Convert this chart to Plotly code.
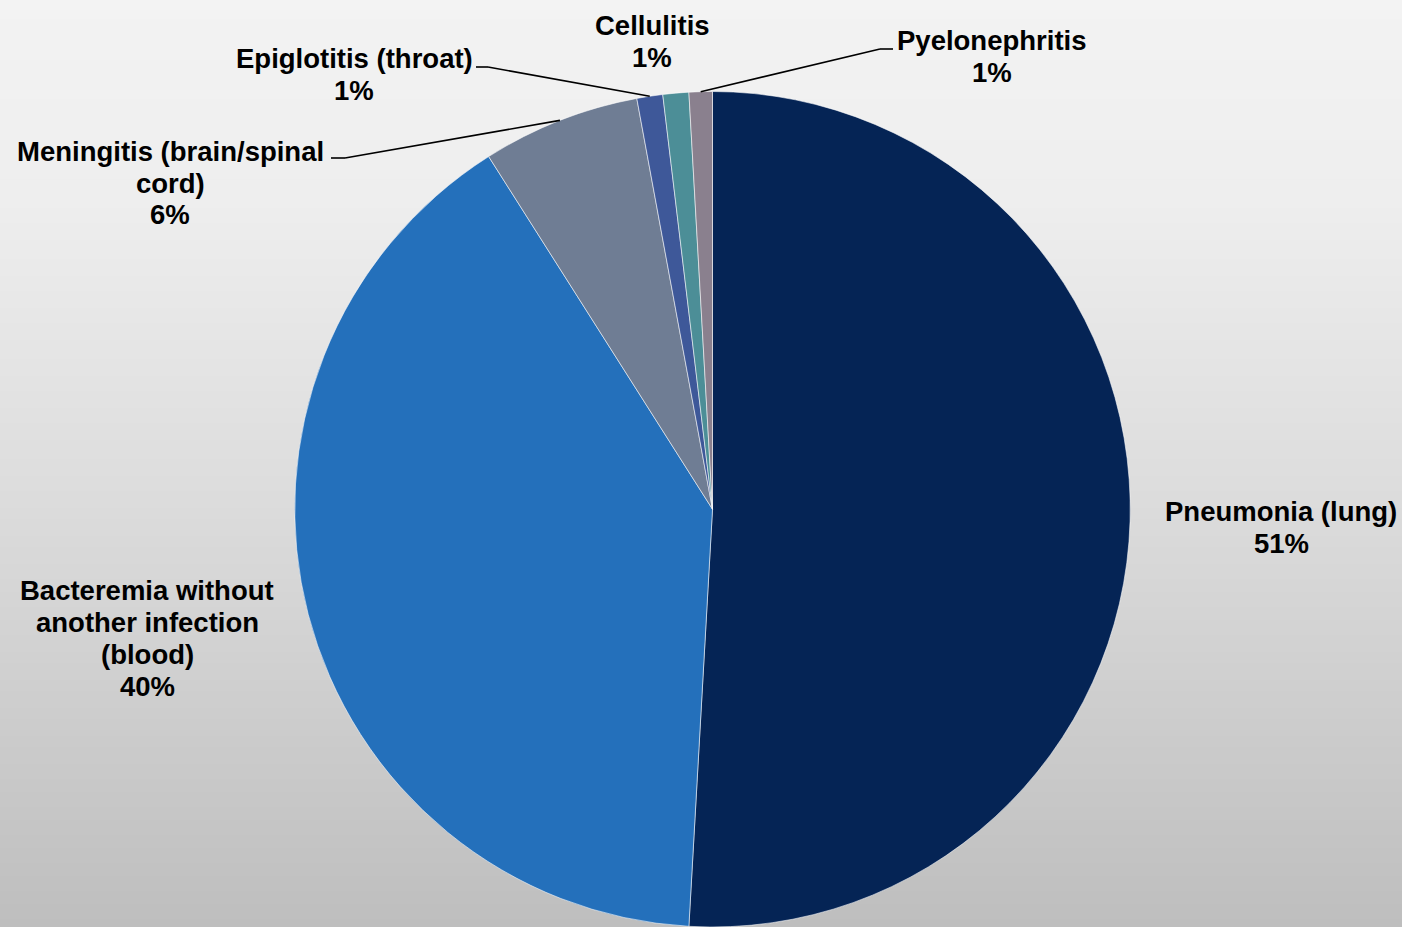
import math
import numpy as np
import plotly.graph_objects as go

# ---- data ----
categories = [
    "Pneumonia (lung)",
    "Bacteremia without<br>another infection<br>(blood)",
    "Meningitis (brain/spinal<br>cord)",
    "Epiglotitis (throat)",
    "Cellulitis",
    "Pyelonephritis",
]
values = [50.9, 40.1, 6.1, 1.0, 1.0, 0.9]
colors = ["#052455", "#2470BB", "#6F7D94", "#3E5899", "#4C8E97", "#8A808E"]

W, H = 1402, 927
FONT = "Liberation Sans, Arial, Helvetica, sans-serif"

# pie geometry (pixels)
cx, top_px, right_px, left_px = 712.5, 91.5, 1131, 294
dom_x = [left_px / W, right_px / W]
dom_y = [0.0, 1 - top_px / H]
R = min((dom_x[1] - dom_x[0]) * W, (dom_y[1] - dom_y[0]) * H) / 2
cy = H - (dom_y[0] + dom_y[1]) / 2 * H

def px(x, y):
    return x / W, 1 - y / H

fig = go.Figure()
fig.add_trace(go.Pie(
    labels=[c.replace("<br>", " ") for c in categories],
    values=values,
    sort=False,
    direction="clockwise",
    rotation=0,
    textinfo="none",
    hoverinfo="label+percent",
    marker=dict(colors=colors, line=dict(color="rgba(255,255,255,0.55)", width=1)),
    domain=dict(x=dom_x, y=dom_y),
    showlegend=False,
))

# background gradient (bands)
shapes = []
stops_y = [0, 200, 500, 800, H]
stops_g = [243, 238, 220, 199, 190]
band = 4
for y0 in range(0, H, band):
    g = int(round(np.interp(y0 + band / 2, stops_y, stops_g)))
    x0p, y0p = px(0, y0)
    x1p, y1p = px(W, min(y0 + band, H))
    shapes.append(dict(type="rect", xref="paper", yref="paper",
                       x0=0, x1=1, y0=y1p - 0.0005, y1=y0p + 0.0005,
                       fillcolor=f"rgb({g},{g},{g})", line=dict(width=0),
                       layer="below"))

# label placement (pixel centers of first line)
label_pos = {
    0: (1281, 511),
    1: (147, 590),
    2: (170, 151),
    3: (354, 59),
    4: (652, 26),
    5: (992, 41),
}
line_gap = 32
total = sum(values)
annotations = []
for i, cat in enumerate(categories):
    pct = f"{round(values[i] / total * 100)}%"
    lines = cat.split("<br>") + [pct]
    lx, ly = label_pos[i]
    for k, t in enumerate(lines):
        xp, yp = px(lx, ly + k * line_gap)
        annotations.append(dict(
            text=t, x=xp, y=yp, xref="paper", yref="paper",
            xanchor="center", yanchor="middle", showarrow=False,
            font=dict(family=FONT, size=27.5, color="#000000", weight="bold"),
        ))

# leader lines: label end -> elbow -> slice mid-angle on rim
leaders = {
    2: [(331, 158), (345, 158)],
    3: [(476, 67), (488, 67)],
    5: [(893, 49), (880, 49)],
}
cum = np.cumsum([0] + values) / total
for i, pts in leaders.items():
    mid = (cum[i] + cum[i + 1]) / 2 * 2 * math.pi
    rx = cx + R * math.sin(mid)
    ry = cy - R * math.cos(mid)
    path_pts = pts + [(rx, ry)]
    for (xa, ya), (xb, yb) in zip(path_pts[:-1], path_pts[1:]):
        a = px(xa, ya)
        b = px(xb, yb)
        shapes.append(dict(type="line", xref="paper", yref="paper",
                           x0=a[0], y0=a[1], x1=b[0], y1=b[1],
                           line=dict(color="#000000", width=1.6), layer="above"))

fig.update_layout(
    width=W, height=H,
    margin=dict(l=0, r=0, t=0, b=0),
    paper_bgcolor="#E0E0E0",
    plot_bgcolor="rgba(0,0,0,0)",
    shapes=shapes,
    annotations=annotations,
    showlegend=False,
)

fig.write_html("out.html")
